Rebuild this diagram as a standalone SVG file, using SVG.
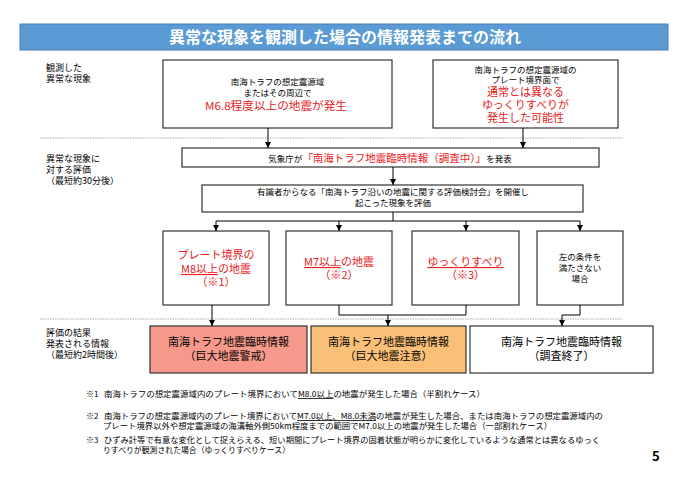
<svg xmlns="http://www.w3.org/2000/svg" width="690" height="488" viewBox="0 0 690 488">
<defs>
<marker id="ah" viewBox="0 0 6 6" refX="6" refY="3" markerWidth="6" markerHeight="6" markerUnits="userSpaceOnUse" orient="auto">
<path d="M0,0 L6,3 L0,6 Z" fill="#000"/>
</marker>
<style>
text{font-family:"Noto Sans CJK JP","Noto Sans CJK SC",sans-serif;fill:#000;}
.box{fill:#fff;stroke:#333;stroke-width:1.2;}
.s{font-size:8.5px;text-anchor:middle;}
.lab{font-size:9px;}
.r{fill:#e8201a;}
.rb{font-size:11px;text-anchor:middle;fill:#e8201a;}
.b4{font-size:11px;text-anchor:middle;}
.fn{font-size:8px;}
.u{text-decoration:underline;}
.con{fill:none;stroke:#000;stroke-width:1;}
.dash{stroke:#aaa;stroke-width:1;stroke-dasharray:1.5 1;}
</style>
</defs>
<rect width="690" height="488" fill="#fff"/>
<g id="title">
<rect x="20" y="24" width="648" height="26" fill="#5b9bd5" stroke="#4a7fb0" stroke-width="1"/>
<text x="345" y="43" text-anchor="middle" style="font-size:16px;font-weight:bold;fill:#fff">異常な現象を観測した場合の情報発表までの流れ</text>
</g>
<g id="separators">
<line class="dash" x1="40" y1="138" x2="623" y2="138"/>
<line class="dash" x1="40" y1="319" x2="623" y2="319"/>
</g>
<g id="labels">
<text class="lab" x="46" y="71">観測した</text>
<text class="lab" x="46" y="82">異常な現象</text>
<text class="lab" x="46" y="162">異常な現象に</text>
<text class="lab" x="46" y="173">対する評価</text>
<text class="lab" x="46" y="184">（最短約30分後）</text>
<text class="lab" x="46" y="336">評価の結果</text>
<text class="lab" x="46" y="347">発表される情報</text>
<text class="lab" x="46" y="358">（最短約2時間後）</text>
</g>
<g id="obs1">
<rect class="box" x="163" y="60" width="229" height="68"/>
<text class="s" x="277.5" y="85">南海トラフの想定震源域</text>
<text class="s" x="277.5" y="96">またはその周辺で</text>
<text class="rb" x="276" y="110" textLength="142" lengthAdjust="spacingAndGlyphs">M6.8程度以上の地震が発生</text>
</g>
<g id="obs2">
<rect class="box" x="433" y="60" width="185" height="68"/>
<text class="s" x="525.5" y="73">南海トラフの想定震源域の</text>
<text class="s" x="525.5" y="83">プレート境界面で</text>
<text class="rb" x="525.5" y="96">通常とは異なる</text>
<text class="rb" x="525.5" y="109">ゆっくりすべりが</text>
<text class="rb" x="525.5" y="122">発生した可能性</text>
</g>
<g id="jma">
<rect class="box" x="182" y="148" width="417" height="19"/>
<text x="390" y="162" text-anchor="middle" style="font-size:8.5px">気象庁が<tspan class="r" style="font-size:10.5px">「南海トラフ地震臨時情報（調査中）」</tspan>を発表</text>
</g>
<g id="committee">
<rect class="box" x="202" y="185" width="381" height="27"/>
<text class="s" x="393" y="195">有識者からなる「南海トラフ沿いの地震に関する評価検討会」を開催し</text>
<text x="355" y="206" style="font-size:8.5px">起こった現象を評価</text>
</g>
<g id="case1">
<rect class="box" x="163" y="231" width="106" height="74"/>
<text class="rb" x="216" y="259">プレート境界の</text>
<text class="rb" x="216" y="273"><tspan class="u">M8以上</tspan>の地震</text>
<text class="rb" x="216" y="286">（※1）</text>
</g>
<g id="case2">
<rect class="box" x="286" y="231" width="106" height="74"/>
<text class="rb" x="339" y="266"><tspan class="u">M7以上</tspan>の地震</text>
<text class="rb" x="339" y="279">（※2）</text>
</g>
<g id="case3">
<rect class="box" x="412" y="231" width="107" height="74"/>
<text class="rb" x="465.5" y="266"><tspan class="u">ゆっくりすべり</tspan></text>
<text class="rb" x="465.5" y="279">（※3）</text>
</g>
<g id="case4">
<rect class="box" x="537" y="231" width="86" height="74"/>
<text class="s" x="580" y="260">左の条件を</text>
<text class="s" x="580" y="271">満たさない</text>
<text class="s" x="580" y="282">場合</text>
</g>
<g id="info1">
<rect x="150" y="326" width="157" height="47" fill="#f6998b" stroke="#333" stroke-width="1.2"/>
<text class="b4" x="228.5" y="346">南海トラフ地震臨時情報</text>
<text class="b4" x="228.5" y="360">（巨大地震警戒）</text>
</g>
<g id="info2">
<rect x="311" y="326" width="155" height="47" fill="#fbc077" stroke="#333" stroke-width="1.2"/>
<text class="b4" x="388.5" y="346">南海トラフ地震臨時情報</text>
<text class="b4" x="388.5" y="360">（巨大地震注意）</text>
</g>
<g id="info3">
<rect class="box" x="470" y="326" width="183" height="47"/>
<text class="b4" x="561.5" y="346">南海トラフ地震臨時情報</text>
<text class="b4" x="561.5" y="360">（調査終了）</text>
</g>
<g id="connectors">
<line class="con" x1="268" y1="128" x2="268" y2="148" marker-end="url(#ah)"/>
<line class="con" x1="523" y1="128" x2="523" y2="148" marker-end="url(#ah)"/>
<line class="con" x1="393" y1="167" x2="393" y2="185" marker-end="url(#ah)"/>
<polyline class="con" points="393,212 393,221"/>
<polyline class="con" points="216,221 580,221"/>
<line class="con" x1="216" y1="221" x2="216" y2="231" marker-end="url(#ah)"/>
<line class="con" x1="339" y1="221" x2="339" y2="231" marker-end="url(#ah)"/>
<line class="con" x1="466" y1="221" x2="466" y2="231" marker-end="url(#ah)"/>
<line class="con" x1="580" y1="221" x2="580" y2="231" marker-end="url(#ah)"/>
<line class="con" x1="212" y1="305" x2="212" y2="326" marker-end="url(#ah)"/>
<polyline class="con" points="339,305 339,315 466,315 466,305"/>
<line class="con" x1="388" y1="315" x2="388" y2="326" marker-end="url(#ah)"/>
<polyline class="con" points="580,305 580,315 562,315 562,326" marker-end="url(#ah)"/>
</g>
<g id="footnotes">
<text class="fn" x="86" y="397">※1</text>
<text class="fn" x="104" y="397" textLength="381" lengthAdjust="spacingAndGlyphs">南海トラフの想定震源域内のプレート境界において<tspan class="u">M8.0以上</tspan>の地震が発生した場合（半割れケース）</text>
<text class="fn" x="86" y="419">※2</text>
<text class="fn" x="104" y="419" textLength="499" lengthAdjust="spacingAndGlyphs">南海トラフの想定震源域内のプレート境界において<tspan class="u">M7.0以上、M8.0未満</tspan>の地震が発生した場合、または南海トラフの想定震源域内の</text>
<text class="fn" x="103" y="429" textLength="449" lengthAdjust="spacingAndGlyphs">プレート境界以外や想定震源域の海溝軸外側50km程度までの範囲でM7.0以上の地震が発生した場合（一部割れケース）</text>
<text class="fn" x="86" y="443">※3</text>
<text class="fn" x="104" y="443" textLength="496" lengthAdjust="spacingAndGlyphs">ひずみ計等で有意な変化として捉えらえる、短い期間にプレート境界の固着状態が明らかに変化しているような通常とは異なるゆっく</text>
<text class="fn" x="103" y="453" textLength="187" lengthAdjust="spacingAndGlyphs">りすべりが観測された場合（ゆっくりすべりケース）</text>
</g>
<g id="page">
<text x="652" y="461" style="font-size:13px;font-weight:bold">5</text>
</g>
</svg>
